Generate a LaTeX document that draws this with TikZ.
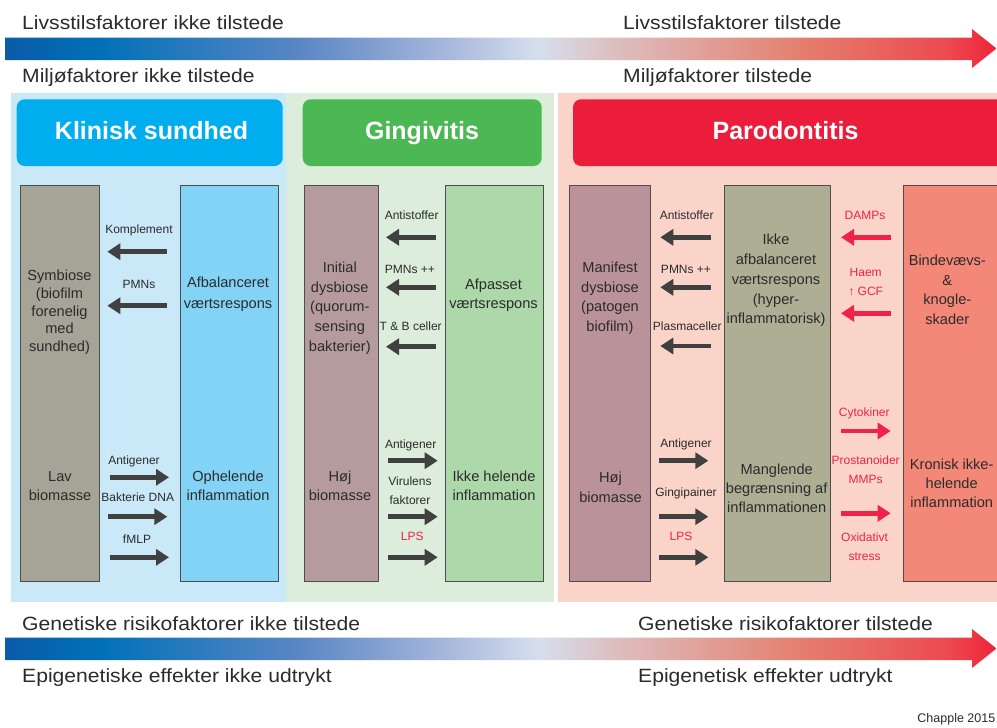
\documentclass[tikz,border=0pt]{standalone}
\usepackage{fontspec}
\setmainfont{Liberation Sans}
\newfontfamily\widefont[FakeStretch=1.1]{Liberation Sans}
\usetikzlibrary{arrows.meta}
\definecolor{sb0}{HTML}{0B5BA8}
\definecolor{sb1}{HTML}{0070B8}
\definecolor{sb2}{HTML}{5A86C4}
\definecolor{sb3}{HTML}{A8B8DC}
\definecolor{sb4}{HTML}{D6DFEE}
\definecolor{sb5}{HTML}{DDBDBE}
\definecolor{sb6}{HTML}{E48070}
\definecolor{sb7}{HTML}{EC4A50}
\definecolor{sb8}{HTML}{EE2438}
\pgfdeclarehorizontalshading{scaleshade}{100bp}{color(0bp)=(sb0); color(25bp)=(sb0); color(29.8bp)=(sb1); color(39.8bp)=(sb2); color(47.4bp)=(sb3); color(51.9bp)=(sb4); color(55.9bp)=(sb5); color(65bp)=(sb6); color(72.5bp)=(sb7); color(75bp)=(sb8); color(100bp)=(sb8)}
\definecolor{bgA}{HTML}{C9E9F9}
\definecolor{bgB}{HTML}{DCEEDB}
\definecolor{bgC}{HTML}{FAD4C9}
\definecolor{tA}{HTML}{00AEEF}
\definecolor{tB}{HTML}{4BB853}
\definecolor{tC}{HTML}{EC1C3B}
\definecolor{cGray}{HTML}{A5A497}
\definecolor{cBlue}{HTML}{82D3F5}
\definecolor{cMauve}{HTML}{B59B9D}
\definecolor{cGreen}{HTML}{ADD8A9}
\definecolor{cPink}{HTML}{BA929A}
\definecolor{cOlive}{HTML}{AEAE94}
\definecolor{cSalmon}{HTML}{F38878}
\definecolor{edge}{HTML}{4D4D4D}
\definecolor{txt}{HTML}{2B2B2B}
\definecolor{agray}{HTML}{404040}
\definecolor{redc}{HTML}{EE2347}
\tikzset{
  coltext/.style={font=\fontsize{14.6}{19.5}\selectfont, align=center, text=txt, inner sep=0pt},
  lbl/.style={font=\fontsize{12}{19}\selectfont, align=center, text=txt, inner sep=0pt},
  onel/.style={lbl, text height=8.6pt, text depth=2.5pt},
  rlbl/.style={lbl, text=redc},
  ronel/.style={onel, text=redc},
  bigtxt/.style={font=\widefont\fontsize{19.2}{22}\selectfont, text=txt, inner sep=0pt, anchor=base west},
  titletxt/.style={font=\bfseries\fontsize{25}{28}\selectfont, text=white, inner sep=0pt, text height=18pt, text depth=5pt},
  colbox/.style={draw=edge, line width=0.8pt},
  darr/.style={draw=agray, line width=4.5pt, -{Triangle[length=13pt,width=16pt]}},
  rarr/.style={darr, draw=redc},
}
\begin{document}
\begin{tikzpicture}[x=1pt,y=-1pt]
\clip (0,0) rectangle (997,728);
\fill[white] (0,0) rectangle (997,728);
% gradient arrows
\shade[shading=scaleshade] (5,37.5) -- (972,37.5) -- (972,29) -- (996.5,48.5) -- (972,68) -- (972,60) -- (5,60) -- cycle;
\shade[shading=scaleshade] (5,637.5) -- (972,637.5) -- (972,629) -- (996.5,648.5) -- (972,668) -- (972,660) -- (5,660) -- cycle;
\node[bigtxt] (t1) at (22,29) {Livsstilsfaktorer ikke tilstede};
\node[bigtxt] (t2) at (623,29) {Livsstilsfaktorer tilstede};
\node[bigtxt] (t3) at (22,82) {Miljøfaktorer ikke tilstede};
\node[bigtxt] (t4) at (623,82) {Miljøfaktorer tilstede};
\node[bigtxt] (b1) at (22,630) {Genetiske risikofaktorer ikke tilstede};
\node[bigtxt] (b2) at (638,630) {Genetiske risikofaktorer tilstede};
\node[bigtxt] (b3) at (22,682) {Epigenetiske effekter ikke udtrykt};
\node[bigtxt] (b4) at (638,682) {Epigenetisk effekter udtrykt};
\node[font=\fontsize{12.5}{14}\selectfont, text=txt, inner sep=0pt, anchor=base east] (cr) at (995.5,722) {Chapple 2015};
% panel backgrounds
\fill[bgA] (11,92.5) rectangle (286,602);
\fill[bgB] (286,92.5) rectangle (554,602);
\fill[bgC] (557.7,92.5) rectangle (1005,602);
% titles
\fill[tA, rounded corners=8pt] (16.7,99.3) rectangle (282.7,166);
\fill[tB, rounded corners=8pt] (302.7,99.3) rectangle (541.7,166);
\fill[tC, rounded corners=8pt] (573,99.3) rectangle (1015,166);
\node[titletxt] (hA) at (151.5,132.5) {Klinisk sundhed};
\node[titletxt] (hB) at (422,132.5) {Gingivitis};
\node[titletxt] (hC) at (785.5,132.5) {Parodontitis};
% columns
\draw[colbox, fill=cGray] (20,185) rectangle (99,581);
\draw[colbox, fill=cBlue] (180,185) rectangle (278,581);
\draw[colbox, fill=cMauve] (304,185) rectangle (378.7,581);
\draw[colbox, fill=cGreen] (445.7,185) rectangle (543.3,581);
\draw[colbox, fill=cPink] (569.3,185) rectangle (650.7,581);
\draw[colbox, fill=cOlive] (724.3,185) rectangle (830.3,581);
\draw[colbox, fill=cSalmon] (903.3,185) rectangle (1010,581);
% column texts panel 1
\node[coltext, font=\fontsize{14.6}{17.8}\selectfont] (a1) at (59.5,312.4) {Symbiose\\(biofilm\\forenelig\\med\\sundhed)};
\node[coltext, font=\fontsize{14.6}{19}\selectfont] (a2) at (60,486.2) {Lav\\biomasse};
\node[coltext, font=\fontsize{14.6}{21}\selectfont] (a3) at (228,294.5) {Afbalanceret\\værtsrespons};
\node[coltext, font=\fontsize{14.6}{18.5}\selectfont] (a4) at (228,486) {Ophelende\\inflammation};
% panel 2
\node[coltext, font=\fontsize{14.6}{19.6}\selectfont] (g1) at (339.8,308.2) {Initial\\dysbiose\\(quorum-\\sensing\\bakterier)};
\node[coltext, font=\fontsize{14.6}{18.5}\selectfont] (g2) at (340,486) {Høj\\biomasse};
\node[coltext, font=\fontsize{14.6}{19}\selectfont] (g3) at (493.5,295.5) {Afpasset\\værtsrespons};
\node[coltext, font=\fontsize{14.6}{18.5}\selectfont] (g4) at (494,486) {Ikke helende\\inflammation};
% panel 3
\node[coltext, font=\fontsize{14.6}{19.5}\selectfont] (p1) at (610,298.2) {Manifest\\dysbiose\\(patogen\\biofilm)};
\node[coltext, font=\fontsize{14.6}{20}\selectfont] (p2) at (610.5,487.3) {Høj\\biomasse};
\node[coltext, font=\fontsize{14.6}{19.8}\selectfont] (p3) at (776,280.5) {Ikke\\afbalanceret\\værtsrespons\\(hyper-\\inflammatorisk)};
\node[coltext, font=\fontsize{14.6}{19.4}\selectfont] (p4) at (776.7,488.3) {Manglende\\begrænsning af\\inflammationen};
\node[coltext, font=\fontsize{14.6}{19.5}\selectfont] (p5) at (947.3,290) {Bindevævs-\\\&\\knogle-\\skader};
\node[coltext, font=\fontsize{14.6}{19.3}\selectfont] (p6) at (951.7,483.3) {Kronisk ikke-\\helende\\inflammation};
% labels panel 1
\node[onel] (l1) at (139,230.7) {Komplement};
\node[onel] (l2) at (139,285) {PMNs};
\node[onel] (l3) at (134,461.7) {Antigener};
\node[onel] (l4) at (137.7,498.3) {Bakterie DNA};
\node[onel] (l5) at (137,540.7) {fMLP};
% labels panel 2
\node[onel] (m1) at (411.7,216.7) {Antistoffer};
\node[onel] (m2) at (410,270.7) {PMNs ++};
\node[onel] (m3) at (410.7,327.7) {T \& B celler};
\node[onel] (m4) at (410.7,445) {Antigener};
\node[lbl] (m5) at (410,491.2) {Virulens\\faktorer};
\node[ronel] (m6) at (412.3,537.3) {LPS};
% labels panel 3
\node[onel] (n1) at (686.7,216.7) {Antistoffer};
\node[onel] (n2) at (686,270.7) {PMNs ++};
\node[onel] (n3) at (687.3,327.3) {Plasmaceller};
\node[onel] (n4) at (686,444.3) {Antigener};
\node[onel] (n5) at (686,493.3) {Gingipainer};
\node[ronel] (n6) at (681,537.3) {LPS};
\node[ronel] (r1) at (865,216.7) {DAMPs};
\node[rlbl] (r2) at (865.7,282.2) {Haem\\↑ GCF};
\node[ronel] (r3) at (864.3,413.3) {Cytokiner};
\node[rlbl, font=\fontsize{12}{18.6}\selectfont] (r4) at (865.7,470) {Prostanoider\\MMPs};
\node[rlbl, font=\fontsize{12}{19.4}\selectfont] (r5) at (864.5,547) {Oxidativt\\stress};
% arrow endpoints
\foreach \nm/\xa/\xb/\yy in {
  a/166.7/107.3/251.7, b/166.7/107.3/305.7,
  c/110/169/477.3, d/108.3/167.3/516.7, e/110/169/557.3,
  f/435.7/386/237.3, g/435.7/386/287.3, h/435.7/386/346.7,
  i/388.3/437.7/460.7, j/388.3/437.7/516.7, k/388.3/437.7/557.3,
  l/710.7/660.3/237.3, m/710.7/660.3/287.3, n/710.7/660.3/346,
  o/659/708.3/460.7, p/659/708.3/516.7, q/659/708.3/557.3}{
  \coordinate (\nm s) at (\xa,\yy);
  \coordinate (\nm e) at (\xb,\yy);
  \draw[darr] (\nm s) -- (\nm e);
}
\foreach \nm/\xa/\xb/\yy in {
  u/890.7/841/237.3, v/890.7/841/313.3,
  w/840.7/890.7/431, z/840.7/890.7/513.3}{
  \coordinate (\nm s) at (\xa,\yy);
  \coordinate (\nm e) at (\xb,\yy);
  \draw[rarr] (\nm s) -- (\nm e);
}
\end{tikzpicture}
\end{document}
